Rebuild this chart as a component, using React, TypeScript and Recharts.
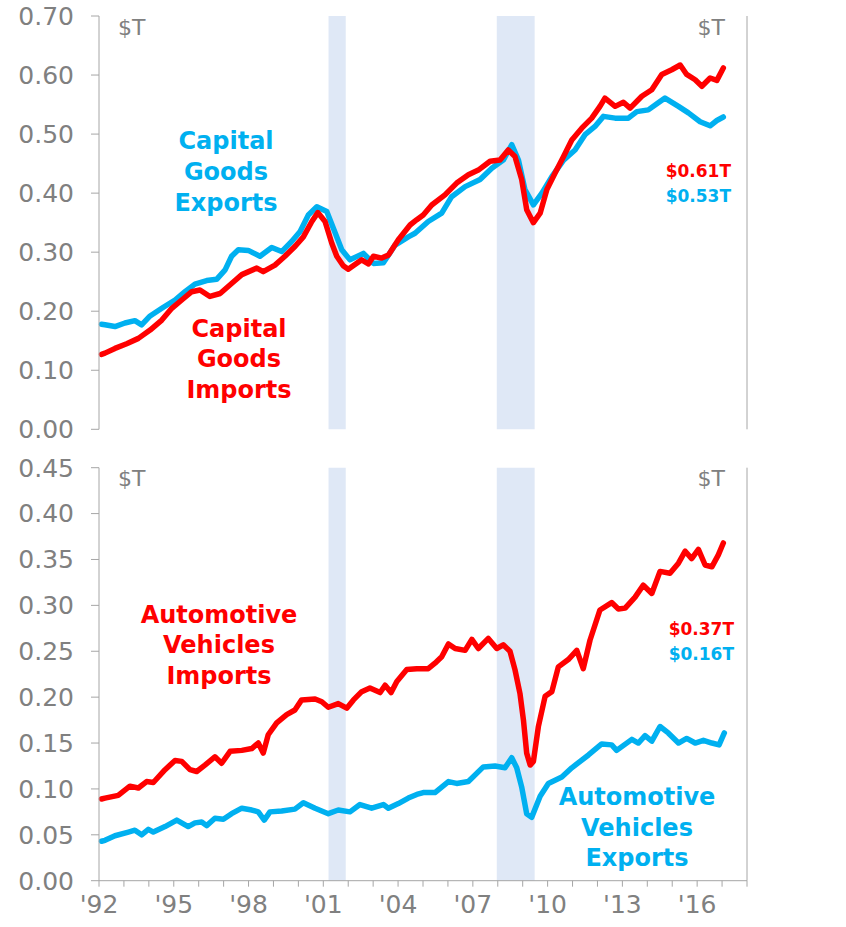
import React from 'react';
import { LineChart, Line, XAxis, YAxis, ReferenceArea } from 'recharts';

// capital goods, $T, 12-month totals
const capExpYears = [1992.1, 1992.24, 1992.64, 1993.04, 1993.44, 1993.71, 1994.05, 1994.52, 1995.05, 1995.45, 1995.85, 1996.32, 1996.72, 1997.06, 1997.32, 1997.59, 1997.99, 1998.46, 1998.93, 1999.33, 1999.73, 2000.07, 2000.4, 2000.74, 2001.14, 2001.4, 2001.74, 2002.07, 2002.61, 2003.01, 2003.41, 2003.88, 2004.41, 2004.68, 2005.21, 2005.75, 2006.15, 2006.69, 2007.29, 2007.76, 2008.22, 2008.56, 2008.83, 2009.09, 2009.43, 2009.77, 2010.17, 2010.64, 2011.1, 2011.5, 2011.9, 2012.24, 2012.71, 2013.24, 2013.58, 2014.04, 2014.44, 2014.71, 2015.25, 2015.65, 2016.12, 2016.52, 2016.79, 2017.05];
const capExpValues = [0.178, 0.177, 0.174, 0.18, 0.184, 0.177, 0.192, 0.205, 0.219, 0.233, 0.246, 0.252, 0.254, 0.27, 0.293, 0.304, 0.303, 0.293, 0.308, 0.301, 0.318, 0.335, 0.363, 0.377, 0.369, 0.341, 0.304, 0.287, 0.298, 0.281, 0.282, 0.312, 0.326, 0.332, 0.352, 0.366, 0.394, 0.411, 0.423, 0.442, 0.456, 0.482, 0.456, 0.406, 0.38, 0.4, 0.428, 0.456, 0.473, 0.499, 0.513, 0.53, 0.527, 0.527, 0.538, 0.541, 0.553, 0.561, 0.547, 0.536, 0.521, 0.514, 0.523, 0.529];

const capImpYears = [1992.1, 1992.24, 1992.64, 1993.11, 1993.58, 1994.05, 1994.52, 1994.92, 1995.32, 1995.72, 1996.05, 1996.45, 1996.86, 1997.32, 1997.73, 1998.33, 1998.59, 1999.06, 1999.46, 1999.87, 2000.2, 2000.54, 2000.78, 2001.07, 2001.34, 2001.54, 2001.8, 2002.0, 2002.54, 2002.81, 2003.01, 2003.34, 2003.61, 2004.01, 2004.48, 2004.75, 2005.01, 2005.35, 2005.88, 2006.35, 2006.82, 2007.22, 2007.69, 2008.09, 2008.42, 2008.69, 2008.96, 2009.16, 2009.43, 2009.7, 2009.97, 2010.3, 2010.64, 2010.97, 2011.37, 2011.77, 2012.1, 2012.3, 2012.71, 2013.04, 2013.31, 2013.78, 2014.18, 2014.58, 2014.98, 2015.32, 2015.58, 2015.92, 2016.19, 2016.52, 2016.79, 2017.05];
const capImpValues = [0.127, 0.129, 0.137, 0.145, 0.154, 0.168, 0.185, 0.205, 0.219, 0.233, 0.236, 0.225, 0.23, 0.247, 0.262, 0.273, 0.267, 0.278, 0.293, 0.31, 0.326, 0.352, 0.367, 0.352, 0.315, 0.293, 0.277, 0.271, 0.287, 0.28, 0.293, 0.29, 0.295, 0.321, 0.346, 0.355, 0.363, 0.38, 0.397, 0.417, 0.431, 0.439, 0.454, 0.456, 0.473, 0.462, 0.423, 0.372, 0.35, 0.366, 0.406, 0.434, 0.462, 0.49, 0.51, 0.527, 0.547, 0.561, 0.547, 0.554, 0.544, 0.564, 0.575, 0.601, 0.609, 0.617, 0.601, 0.592, 0.581, 0.595, 0.591, 0.612];

// automotive vehicles, $T
const autoImpYears = [1992.1, 1992.24, 1992.77, 1993.24, 1993.58, 1993.91, 1994.18, 1994.65, 1995.05, 1995.32, 1995.65, 1995.92, 1996.25, 1996.65, 1996.92, 1997.26, 1997.73, 1998.13, 1998.39, 1998.59, 1998.79, 1999.13, 1999.53, 1999.86, 2000.13, 2000.67, 2000.94, 2001.2, 2001.6, 2001.94, 2002.21, 2002.54, 2002.87, 2003.28, 2003.48, 2003.72, 2003.95, 2004.35, 2004.75, 2005.21, 2005.48, 2005.75, 2006.02, 2006.29, 2006.69, 2006.96, 2007.22, 2007.62, 2007.96, 2008.22, 2008.49, 2008.69, 2008.89, 2009.03, 2009.16, 2009.3, 2009.43, 2009.63, 2009.9, 2010.17, 2010.43, 2010.83, 2011.17, 2011.43, 2011.7, 2012.1, 2012.57, 2012.84, 2013.11, 2013.51, 2013.84, 2014.18, 2014.51, 2014.91, 2015.25, 2015.52, 2015.78, 2016.05, 2016.32, 2016.59, 2016.85, 2017.05];
const autoImpValues = [0.089, 0.09, 0.093, 0.103, 0.101, 0.108, 0.107, 0.121, 0.131, 0.13, 0.121, 0.119, 0.126, 0.135, 0.128, 0.141, 0.142, 0.144, 0.15, 0.139, 0.159, 0.172, 0.181, 0.186, 0.197, 0.198, 0.195, 0.189, 0.193, 0.188, 0.197, 0.206, 0.21, 0.205, 0.213, 0.205, 0.217, 0.23, 0.231, 0.231, 0.237, 0.244, 0.258, 0.253, 0.251, 0.263, 0.253, 0.264, 0.253, 0.257, 0.25, 0.23, 0.204, 0.175, 0.139, 0.126, 0.13, 0.168, 0.201, 0.206, 0.233, 0.241, 0.251, 0.231, 0.262, 0.295, 0.303, 0.296, 0.297, 0.309, 0.322, 0.313, 0.337, 0.335, 0.346, 0.359, 0.351, 0.361, 0.344, 0.342, 0.355, 0.368];

const autoExpYears = [1992.1, 1992.24, 1992.64, 1993.18, 1993.44, 1993.71, 1993.98, 1994.18, 1994.65, 1995.12, 1995.58, 1995.85, 1996.12, 1996.32, 1996.65, 1996.99, 1997.32, 1997.73, 1998.13, 1998.39, 1998.63, 1998.86, 1999.33, 1999.86, 2000.2, 2000.67, 2001.2, 2001.6, 2002.07, 2002.47, 2002.94, 2003.41, 2003.61, 2004.01, 2004.41, 2004.75, 2005.01, 2005.48, 2006.02, 2006.35, 2006.82, 2007.42, 2007.89, 2008.29, 2008.56, 2008.76, 2008.96, 2009.16, 2009.36, 2009.7, 2010.03, 2010.57, 2010.97, 2011.64, 2012.17, 2012.57, 2012.77, 2013.38, 2013.64, 2013.91, 2014.18, 2014.51, 2014.84, 2015.25, 2015.58, 2015.92, 2016.25, 2016.59, 2016.88, 2017.09];
const autoExpValues = [0.043, 0.044, 0.049, 0.053, 0.055, 0.05, 0.056, 0.053, 0.059, 0.066, 0.059, 0.063, 0.064, 0.06, 0.068, 0.067, 0.073, 0.079, 0.077, 0.075, 0.066, 0.075, 0.076, 0.078, 0.085, 0.079, 0.073, 0.077, 0.075, 0.083, 0.079, 0.083, 0.079, 0.084, 0.09, 0.094, 0.096, 0.096, 0.108, 0.106, 0.108, 0.124, 0.125, 0.123, 0.134, 0.123, 0.102, 0.073, 0.069, 0.092, 0.106, 0.113, 0.123, 0.137, 0.149, 0.148, 0.142, 0.154, 0.15, 0.158, 0.152, 0.168, 0.161, 0.15, 0.155, 0.15, 0.153, 0.15, 0.148, 0.161];

// recessions (Mar-Nov 2001, Dec 2007-Jun 2009)
const recessions = [[2001.21, 2001.9], [2007.96, 2009.48]];

const yearTicks = Array.from({ length: 27 }, (_, i) => 1992 + i);
const labelYears = [1992, 1995, 1998, 2001, 2004, 2007, 2010, 2013, 2016];
const topTicks = [0, 0.1, 0.2, 0.3, 0.4, 0.5, 0.6, 0.7];
const bottomTicks = [0, 0.05, 0.1, 0.15, 0.2, 0.25, 0.3, 0.35, 0.4, 0.45];

const toRows = (xs: number[], vs: number[]) => xs.map((x, i) => ({ x, v: vs[i] }));

const RED = '#ff0000';
const BLUE = '#00b0f0';
const GREY = '#808080';
const AXIS = '#a6a6a6';
const BAND = '#dfe8f6';
const FONT = '"DejaVu Sans", Verdana, sans-serif';

const tickStyle = { fill: GREY, fontSize: 25, fontFamily: FONT };

function Panel({ height, margin, ticks, domain, series, showX }: any) {
  return (
    <LineChart width={846} height={height} margin={margin}>
      <XAxis
        type="number"
        dataKey="x"
        domain={[1992, 2018]}
        ticks={yearTicks}
        interval={0}
        hide={!showX}
        height={46}
        stroke={AXIS}
        tickSize={6}
        tickMargin={9}
        tick={tickStyle}
        tickFormatter={(y: number) => (labelYears.includes(y) ? "'" + String(y).slice(2) : '')}
      />
      <YAxis
        yAxisId="l"
        domain={domain}
        ticks={ticks}
        interval={0}
        width={99}
        stroke={AXIS}
        tickSize={8}
        tickMargin={17}
        tick={tickStyle}
        tickFormatter={(v: number) => v.toFixed(2)}
      />
      <YAxis
        yAxisId="r"
        orientation="right"
        domain={domain}
        ticks={ticks}
        interval={0}
        width={99}
        stroke={AXIS}
        tickSize={7}
        tickMargin={17}
        tick={{ ...tickStyle, textAnchor: 'start' }}
        tickFormatter={(v: number) => v.toFixed(2)}
      />
      {recessions.map(([a, b], i) => (
        <ReferenceArea key={i} yAxisId="l" x1={a} x2={b} fill={BAND} fillOpacity={1} stroke="none" />
      ))}
      {series.map((s: any) => (
        <Line
          key={s.name}
          yAxisId="l"
          data={s.data}
          dataKey="v"
          type="linear"
          stroke={s.color}
          strokeWidth={5.5}
          strokeLinejoin="round"
          strokeLinecap="round"
          dot={false}
          isAnimationActive={false}
        />
      ))}
    </LineChart>
  );
}

export default function App() {
  const bold = { fontFamily: FONT, fontWeight: 'bold' as const };
  return (
    <div style={{ position: 'absolute', left: 0, top: 0, width: 846, height: 927, background: '#fff', fontFamily: FONT }}>
      <div style={{ position: 'absolute', left: 0, top: 440 }}>
        <Panel
          height={487}
          margin={{ top: 27.7, right: 0, bottom: 0.3, left: 0 }}
          ticks={bottomTicks}
          domain={[0, 0.45]}
          showX={true}
          series={[
            { name: 'autoExp', color: BLUE, data: toRows(autoExpYears, autoExpValues) },
            { name: 'autoImp', color: RED, data: toRows(autoImpYears, autoImpValues) },
          ]}
        />
      </div>
      <div style={{ position: 'absolute', left: 0, top: 0 }}>
        <Panel
          height={446}
          margin={{ top: 16, right: 0, bottom: 16.7, left: 0 }}
          ticks={topTicks}
          domain={[0, 0.7]}
          showX={false}
          series={[
            { name: 'capExp', color: BLUE, data: toRows(capExpYears, capExpValues) },
            { name: 'capImp', color: RED, data: toRows(capImpYears, capImpValues) },
          ]}
        />
      </div>
      <svg width={846} height={927} style={{ position: 'absolute', left: 0, top: 0, pointerEvents: 'none' }}>
        <g fill={GREY} fontSize={22} fontFamily={FONT}>
          <text x={118} y={35}>$T</text>
          <text x={725} y={35} textAnchor="end">$T</text>
          <text x={118} y={486}>$T</text>
          <text x={725} y={486} textAnchor="end">$T</text>
        </g>
        <g fill={BLUE} fontSize={24} textAnchor="middle" style={bold}>
          <text x={226} y={149}>Capital</text>
          <text x={226} y={180}>Goods</text>
          <text x={226} y={211}>Exports</text>
          <text x={637} y={805}>Automotive</text>
          <text x={637} y={835.5}>Vehicles</text>
          <text x={637} y={866}>Exports</text>
        </g>
        <g fill={RED} fontSize={24} textAnchor="middle" style={bold}>
          <text x={239} y={337}>Capital</text>
          <text x={239} y={367}>Goods</text>
          <text x={239} y={398}>Imports</text>
          <text x={219} y={622.7}>Automotive</text>
          <text x={219} y={653.3}>Vehicles</text>
          <text x={219} y={683.7}>Imports</text>
        </g>
        <g fontSize={17} textAnchor="end" style={bold}>
          <text x={731} y={177} fill={RED}>$0.61T</text>
          <text x={731} y={202} fill={BLUE}>$0.53T</text>
          <text x={734} y={635} fill={RED}>$0.37T</text>
          <text x={734} y={660} fill={BLUE}>$0.16T</text>
        </g>
      </svg>
    </div>
  );
}
